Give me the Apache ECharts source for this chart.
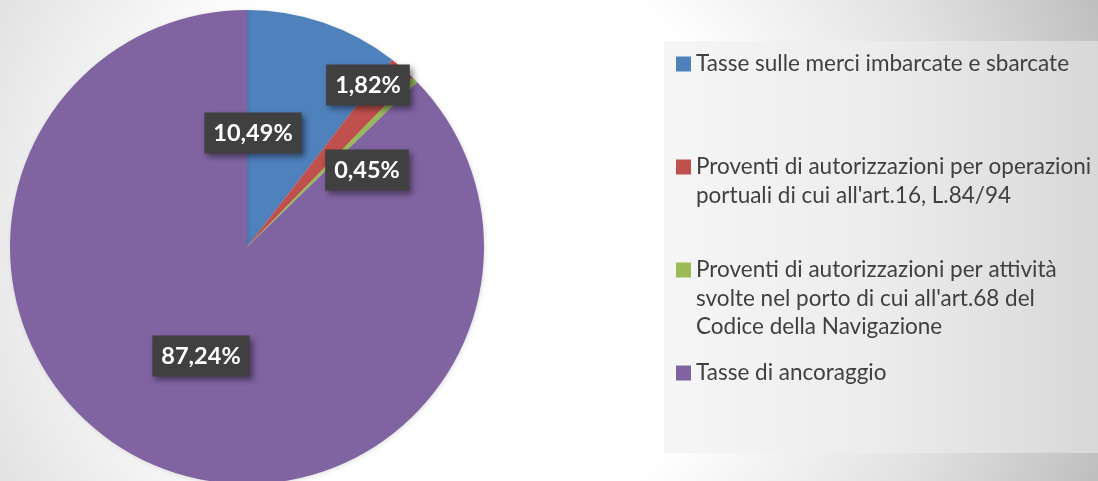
<!DOCTYPE html>
<html>
<head>
<meta charset="utf-8">
<script src="https://cdn.jsdelivr.net/npm/echarts@6/dist/echarts.min.js"></script>
<style>
  html, body { margin: 0; padding: 0; }
  body {
    width: 1098px; height: 481px; overflow: hidden;
    background: radial-gradient(circle 690px at 450px 240px, #ffffff 0px, #ffffff 300px, #e2e2e2 510px, #bfbfbf 690px);
  }
  #chart { width: 1098px; height: 481px; }
</style>
</head>
<body>
<div id="chart"></div>
<script>
// ---- data ----
const categories = [
  "Tasse sulle merci imbarcate e sbarcate",
  "Proventi di autorizzazioni per operazioni portuali di cui all'art.16, L.84/94",
  "Proventi di autorizzazioni per attività svolte nel porto di cui all'art.68 del Codice della Navigazione",
  "Tasse di ancoraggio"
];
const legendLines = [
  ["Tasse sulle merci imbarcate e sbarcate"],
  ["Proventi di autorizzazioni per operazioni", "portuali di cui all'art.16, L.84/94"],
  ["Proventi di autorizzazioni per attività", "svolte nel porto di cui all'art.68 del", "Codice della Navigazione"],
  ["Tasse di ancoraggio"]
];
const values = [10.49, 1.82, 0.45, 87.24];
const colors = ["#4F81BD", "#C0504D", "#9BBB59", "#8064A2"];

// ---- layout (not data) ----
const labelPos = [[253, 133], [368, 85], [367, 170], [201, 356]];
const legendIconCenters = [64, 167, 270, 373];
const LH = 28.5;
const FONT = "Lato, 'Open Sans', sans-serif";

const chart = echarts.init(document.getElementById('chart'), null, { renderer: 'canvas' });

const legends = categories.map((name, i) => {
  const n = legendLines[i].length;
  const H = (2 * n - 1) * LH;
  // leading blank lines keep the first text line level with the icon
  const blanks = new Array(n - 1).fill(' ');
  return {
    data: [name],
    orient: 'vertical',
    left: 676,
    top: legendIconCenters[i] - H / 2,
    padding: 0,
    itemGap: 0,
    itemWidth: 15,
    itemHeight: 15,
    icon: 'rect',
    selectedMode: false,
    formatter: () => blanks.concat(legendLines[i]).join('\n'),
    textStyle: {
      fontFamily: FONT,
      fontSize: 22.5,
      color: '#404040',
      lineHeight: LH
    }
  };
});

chart.setOption({
  backgroundColor: 'transparent',
  animation: false,
  color: colors,
  graphic: [{
    type: 'rect',
    z: -10,
    shape: { x: 664, y: 41, width: 434, height: 412 },
    style: {
      fill: {
        type: 'linear', x: 0, y: 0, x2: 1, y2: 0,
        colorStops: [
          { offset: 0, color: '#f6f6f6' },
          { offset: 0.5, color: '#ececec' },
          { offset: 1, color: '#d8d8d8' }
        ]
      }
    }
  }],
  legend: legends,
  series: [{
    type: 'pie',
    center: [247, 247],
    radius: 237,
    startAngle: 90,
    clockwise: true,
    avoidLabelOverlap: false,
    itemStyle: {
      shadowColor: 'rgba(0,0,0,0.12)',
      shadowBlur: 4,
      shadowOffsetX: 1,
      shadowOffsetY: 1
    },
    emphasis: { disabled: true },
    labelLine: { show: false },
    label: {
      show: true,
      position: 'inside',
      formatter: (p) => p.value.toFixed(2).replace('.', ',') + '%',
      fontFamily: FONT,
      fontWeight: 'bold',
      fontSize: 23.5,
      lineHeight: 29,
      color: '#ffffff',
      backgroundColor: '#404040',
      padding: [6, 9, 6, 9],
      shadowColor: 'rgba(0,0,0,0.45)',
      shadowBlur: 6,
      shadowOffsetX: 3,
      shadowOffsetY: 3
    },
    labelLayout: (params) => ({
      x: labelPos[params.dataIndex][0],
      y: labelPos[params.dataIndex][1],
      align: 'center',
      verticalAlign: 'middle'
    }),
    data: categories.map((name, i) => ({ name, value: values[i] }))
  }]
});
</script>
</body>
</html>
